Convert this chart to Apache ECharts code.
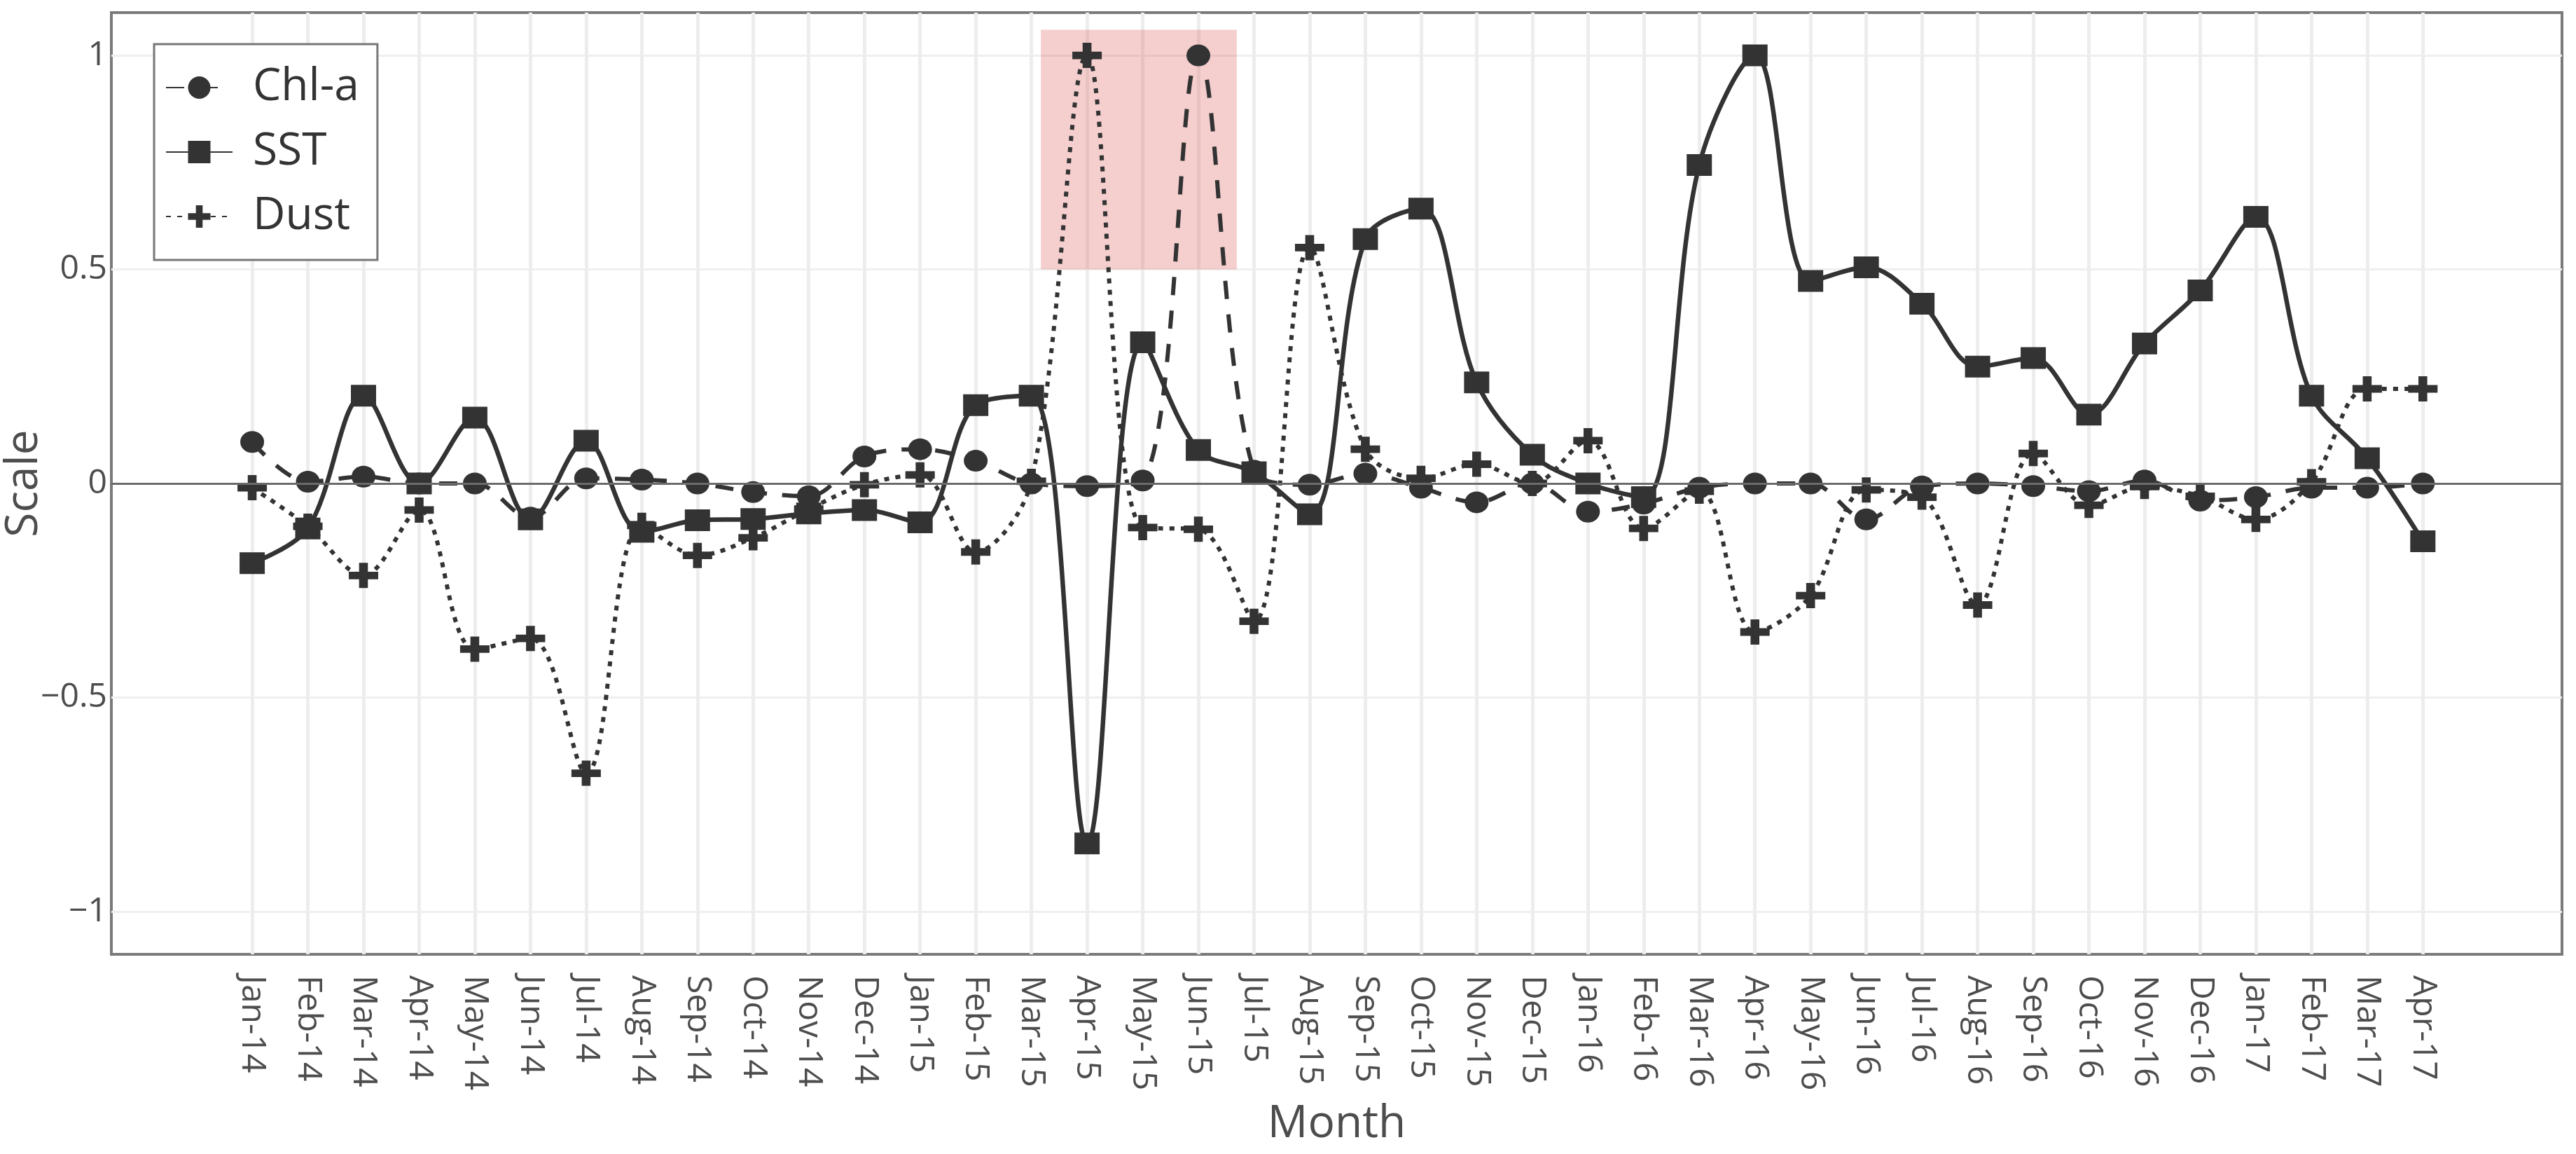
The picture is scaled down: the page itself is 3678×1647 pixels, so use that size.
<!DOCTYPE html>
<html>
<head>
<meta charset="utf-8">
<script src="https://cdn.jsdelivr.net/npm/echarts@6/dist/echarts.min.js"></script>
<style>
html,body{margin:0;padding:0;background:#fff;}
#chart{width:3678px;height:1647px;}
</style>
</head>
<body>
<div id="chart"></div>
<script>
const months = ["Jan-14","Feb-14","Mar-14","Apr-14","May-14","Jun-14","Jul-14","Aug-14","Sep-14","Oct-14","Nov-14","Dec-14",
"Jan-15","Feb-15","Mar-15","Apr-15","May-15","Jun-15","Jul-15","Aug-15","Sep-15","Oct-15","Nov-15","Dec-15",
"Jan-16","Feb-16","Mar-16","Apr-16","May-16","Jun-16","Jul-16","Aug-16","Sep-16","Oct-16","Nov-16","Dec-16",
"Jan-17","Feb-17","Mar-17","Apr-17"];

const chl = [0.097,0.004,0.016,0.0,0.0,-0.08,0.012,0.009,0.0,-0.02,-0.03,0.063,
0.08,0.053,0.0,-0.006,0.007,1.0,0.03,-0.003,0.023,-0.01,-0.044,0.0,
-0.066,-0.047,-0.01,0.0,0.0,-0.084,-0.007,0.0,-0.006,-0.018,0.007,-0.04,
-0.032,-0.01,-0.01,0.0];

const sst = [-0.186,-0.105,0.205,0.0,0.154,-0.084,0.1,-0.113,-0.086,-0.083,-0.07,-0.062,
-0.091,0.183,0.205,-0.841,0.33,0.078,0.026,-0.072,0.571,0.642,0.236,0.067,
0.0,-0.032,0.744,1.0,0.473,0.505,0.42,0.273,0.293,0.161,0.327,0.451,
0.623,0.205,0.059,-0.135];

const dust = [-0.01,-0.1,-0.215,-0.062,-0.387,-0.362,-0.677,-0.098,-0.168,-0.127,-0.06,-0.003,
0.02,-0.16,0.005,1.0,-0.103,-0.107,-0.322,0.551,0.08,0.012,0.045,0.0,
0.1,-0.105,-0.018,-0.347,-0.262,-0.015,-0.032,-0.284,0.07,-0.051,-0.007,-0.03,
-0.084,0.004,0.221,0.221];

const yTicks = [-1,-0.5,0,0.5,1];
const highlight = {x0: 14.17, x1: 17.69, y0: 0.5, y1: 1.06};

const idx = months.map((m,i)=>i);
const toPairs = arr => arr.map((v,i)=>[i,v]);
const INK = '#333333';
const FONT = '"Open Sans", "DejaVu Sans", sans-serif';
const plusPath = 'path://M0,7 H7 V0 H13 V7 H20 V13 H13 V20 H7 V13 H0 Z';
const SMOOTH = 0.35;

const chart = echarts.init(document.getElementById('chart'), null, {renderer:'canvas'});
const option = {
  animation: false,
  backgroundColor: '#ffffff',
  textStyle: {fontFamily: FONT},
  grid: {left: 159, right: 20, top: 18, bottom: 285, outerBoundsMode: 'none', containLabel: false,
    show: true, borderColor: '#7a7a7a', borderWidth: 4, backgroundColor: 'transparent'},
  legend: {
    orient: 'vertical', left: 220, top: 63,
    borderColor: '#777777', borderWidth: 3, backgroundColor: '#ffffff',
    padding: [30, 26, 30, 16],
    itemWidth: 95, itemHeight: 40, itemGap: 28,
    textStyle: {fontSize: 64, color: '#333333', fontFamily: FONT, padding: [0,0,0,24]},
    data: ['Chl-a','SST','Dust']
  },
  xAxis: {
    type: 'value', min: -2.53, max: 41.5,
    name: 'Month', nameLocation: 'middle', nameGap: 243, nameMoveOverlap: false,
    nameTextStyle: {fontSize: 64, color: '#4d4d4d', verticalAlign: 'middle', fontFamily: FONT},
    axisLine: {show: false},
    axisTick: {show: false, customValues: idx},
    axisLabel: {customValues: idx, formatter: v => months[Math.round(v)], rotate: -90, margin: 30, fontSize: 48, color: '#4d4d4d', fontFamily: FONT},
    splitLine: {show: true, lineStyle: {color: '#ededed', width: 5}}
  },
  yAxis: {
    type: 'value', min: -1.1, max: 1.1,
    name: 'Scale', nameLocation: 'middle', nameGap: 124, nameRotate: 90, nameMoveOverlap: false,
    nameTextStyle: {fontSize: 64, color: '#4d4d4d', verticalAlign: 'middle', fontFamily: FONT},
    axisLine: {show: false},
    axisTick: {show: false, customValues: yTicks},
    axisLabel: {customValues: yTicks, formatter: v => (v < 0 ? '\u2212' + String(Math.abs(v)) : String(v)), margin: 6, fontSize: 48, color: '#4d4d4d', fontFamily: FONT},
    splitLine: {show: true, lineStyle: {color: '#efefef', width: 3}}
  },
  series: [
    {
      name: 'Dust', type: 'line', data: toPairs(dust), smooth: SMOOTH, z: 2,
      symbol: plusPath, symbolSize: [42, 36],
      lineStyle: {color: INK, width: 6, type: [7, 9]},
      itemStyle: {color: INK},
      markLine: {silent: true, symbol: 'none', label: {show: false}, lineStyle: {color: '#6b6b6b', width: 3, type: 'solid'}, data: [{yAxis: 0}]}
    },
    {
      name: 'SST', type: 'line', data: toPairs(sst), smooth: SMOOTH, z: 3,
      symbol: 'rect', symbolSize: [36, 31],
      lineStyle: {color: INK, width: 6.5, type: 'solid'},
      itemStyle: {color: INK}
    },
    {
      name: 'Chl-a', type: 'line', data: toPairs(chl), smooth: SMOOTH, z: 4,
      symbol: 'circle', symbolSize: [34, 31],
      lineStyle: {color: INK, width: 6, type: [26, 22]},
      itemStyle: {color: INK}
    },
    {
      name: 'highlight', type: 'line', data: [], z: 10, silent: true,
      markArea: {silent: true, itemStyle: {color: 'rgba(220,80,80,0.28)'},
        data: [[{coord: [highlight.x0, highlight.y1]}, {coord: [highlight.x1, highlight.y0]}]]}
    }
  ]
};
chart.setOption(option);
</script>
</body>
</html>
